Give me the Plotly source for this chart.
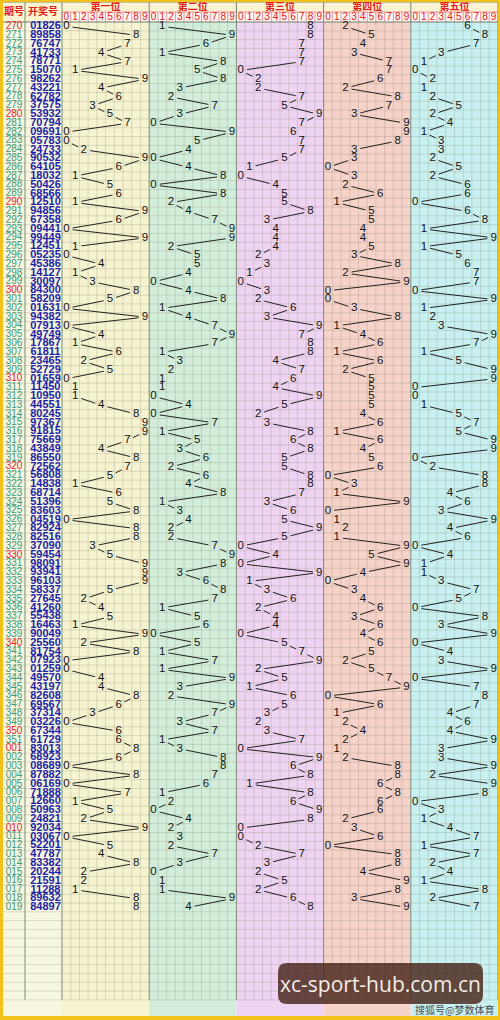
import plotly.graph_objects as go
import math

periods = ["270","271","272","273","274","275","276","277","278","279",
           "280","281","282","283","284","285","286","287","288","289",
           "290","291","292","293","294","295","296","297","298","299",
           "300","301","302","303","304","305","306","307","308","309",
           "310","311","312","313","314","315","316","317","318","319",
           "320","321","322","323","324","325","326","327","328","329",
           "330","331","332","333","334","335","336","337","338","339",
           "340","341","342","343","344","345","346","347","348","349",
           "350","351","001","002","003","004","005","006","007","008",
           "009","010","011","012","013","014","015","016","017","018","019"]

numbers = ["01826","89858","76747","41733","78771","15070","98262","43221","62782","37575",
           "53932","70794","09691","05783","24733","90532","64105","18032","50426","68566",
           "12510","94856","67358","09441","99449","12451","05235","45386","14127","30097",
           "84300","58209","01631","94382","07913","49749","17867","61811","23465","52729",
           "01659","11450","10950","44551","80245","97367","91815","75669","43849","86550",
           "72562","56808","14838","68714","51396","83603","04519","82924","82516","37090",
           "59454","98091","93941","96103","58337","27645","41260","55438","16463","90049",
           "25560","81754","07923","01259","49570","43197","82608","69567","37314","03226",
           "67344","61729","83013","68923","08689","87882","06169","71888","12660","50963",
           "24821","92034","03067","52201","47787","83382","20244","21591","11288","89632","84897"]

position_names = ["第一位", "第二位", "第三位", "第四位", "第五位"]
digit_labels = [str(d) for d in range(10)]

col_colors = ["#f6f3d0", "#d2eedb", "#eed4f2", "#f6d2c8", "#c8f0f0"]

CW = 8.72   # px per cell
RH = 8.81   # px per row
X0PX = 62
Y0PX = 22
def px2x(p): return (p - X0PX) / CW
def px2y(p): return (p - Y0PX) / RH

XMIN, XMAX = px2x(0), px2x(500)
YMIN, YMAX = px2y(0), px2y(1020)
NROWS = 111
xl = px2x(3)        # left edge of period column
xsep = px2x(25)     # period | number separator
yh0 = px2y(2)
yh1 = px2y(12)

fig = go.Figure()
shapes = []

# backgrounds
shapes.append(dict(type="rect", xref="x", yref="y", x0=xl, x1=0, y0=0, y1=px2y(1016),
                   fillcolor="#f7f6e0", line_width=0, layer="below"))
for p in range(5):
    shapes.append(dict(type="rect", xref="x", yref="y", x0=p*10, x1=p*10+10, y0=0, y1=px2y(1016),
                       fillcolor=col_colors[p], line_width=0, layer="below"))
# header backgrounds
shapes.append(dict(type="rect", xref="x", yref="y", x0=xl, x1=50, y0=yh0, y1=yh1,
                   fillcolor="#fcf3d2", line_width=0, layer="below"))
shapes.append(dict(type="rect", xref="x", yref="y", x0=xl, x1=0, y0=yh0, y1=0,
                   fillcolor="#fcf3d2", line_width=0, layer="below"))
shapes.append(dict(type="rect", xref="x", yref="y", x0=0, x1=50, y0=yh1, y1=0,
                   fillcolor="#fff6f2", line_width=0, layer="below"))

# grid lines
gx, gy = [], []
for r in range(NROWS + 1):
    gx += [xl, 50, None]; gy += [r, r, None]
for c in range(50):
    if c % 10 != 0:
        gx += [c, c, None]; gy += [0, NROWS, None]
fig.add_trace(go.Scatter(x=gx, y=gy, mode="lines", line=dict(color="rgba(120,120,90,0.22)", width=1),
                         hoverinfo="skip", showlegend=False))
# header digit boxes
hx, hy = [], []
for c in range(51):
    hx += [c, c, None]; hy += [yh1, 0, None]
hx += [0, 50, None]; hy += [yh1, yh1, None]
fig.add_trace(go.Scatter(x=hx, y=hy, mode="lines", line=dict(color="rgba(225,110,120,0.7)", width=1),
                         hoverinfo="skip", showlegend=False))
# separators
sx, sy = [], []
for c in range(0, 51, 10):
    sx += [c, c, None]; sy += [yh0, NROWS, None]
sx += [xsep, xsep, None]; sy += [yh0, NROWS, None]
sx += [xl, 50, None]; sy += [0, 0, None]
sx += [xl, 50, None]; sy += [yh0, yh0, None]
fig.add_trace(go.Scatter(x=sx, y=sy, mode="lines", line=dict(color="#7a8a78", width=1),
                         hoverinfo="skip", showlegend=False))

rows = list(range(len(periods)))

# left columns
fig.add_trace(go.Scatter(
    x=[(xl + xsep) / 2] * len(periods), y=[r + 0.5 for r in rows], mode="text", text=periods,
    textfont=dict(family="Liberation Sans, Arial", size=10,
                  color=["#e02828" if (pp.endswith("0") or pp == "001") else "#3a9a7c" for pp in periods]),
    hoverinfo="skip", showlegend=False))
fig.add_trace(go.Scatter(
    x=[px2x(45.5)] * len(numbers), y=[r + 0.5 for r in rows], mode="text", text=numbers,
    textfont=dict(family="Liberation Sans, Arial", size=11, color="#1e1ea8", weight="bold"),
    hoverinfo="skip", showlegend=False))

# trend lines and digits
GAP = 0.72
for p in range(5):
    xs = [p*10 + int(n[p]) + 0.5 for n in numbers]
    ys = [r + 0.5 for r in rows]
    lx, ly = [], []
    for i in range(len(xs) - 1):
        dx = xs[i+1] - xs[i]; dy = ys[i+1] - ys[i]
        L = math.hypot(dx, dy)
        if L - 2*GAP <= 0.15:
            continue
        ux, uy = dx / L, dy / L
        lx += [xs[i] + ux*GAP, xs[i+1] - ux*GAP, None]
        ly += [ys[i] + uy*GAP, ys[i+1] - uy*GAP, None]
    fig.add_trace(go.Scatter(x=lx, y=ly, mode="lines", line=dict(color="#222222", width=1),
                             hoverinfo="skip", showlegend=False))
    fig.add_trace(go.Scatter(x=xs, y=ys, mode="text", text=[n[p] for n in numbers],
                             textfont=dict(family="Liberation Sans, Arial", size=11.5, color="#111111"),
                             hoverinfo="skip", showlegend=False))

# header texts
fig.add_trace(go.Scatter(
    x=[(xl + xsep) / 2, px2x(43)], y=[(yh0 + 0) / 2, (yh0 + 0) / 2], mode="text", text=["期号", "开奖号"],
    textfont=dict(family="Noto Sans CJK SC", size=10, color="#e02020", weight="bold"),
    hoverinfo="skip", showlegend=False))
fig.add_trace(go.Scatter(
    x=[p*10 + 5 for p in range(5)], y=[(yh0 + yh1) / 2] * 5, mode="text", text=position_names,
    textfont=dict(family="Noto Sans CJK SC", size=10, color="#e02020", weight="bold"),
    hoverinfo="skip", showlegend=False))
fig.add_trace(go.Scatter(
    x=[p*10 + d + 0.5 for p in range(5) for d in range(10)], y=[(yh1 + 0) / 2] * 50, mode="text",
    text=[digit_labels[d] for p in range(5) for d in range(10)],
    textfont=dict(family="Liberation Sans, Arial", size=10, color="#e02020"),
    hoverinfo="skip", showlegend=False))

# frame borders (paper)
shapes.append(dict(type="rect", xref="paper", yref="paper", x0=0, x1=3/500, y0=0, y1=1,
                   fillcolor="#f3c11c", line_width=0, layer="above"))
shapes.append(dict(type="rect", xref="paper", yref="paper", x0=0, x1=1, y0=0, y1=4/1020,
                   fillcolor="#f3c11c", line_width=0, layer="above"))
shapes.append(dict(type="rect", xref="paper", yref="paper", x0=0, x1=1, y0=1-2/1020, y1=1,
                   fillcolor="#f3c11c", line_width=0, layer="above"))
shapes.append(dict(type="rect", xref="paper", yref="paper", x0=498/500, x1=1, y0=0, y1=1,
                   fillcolor="#f3c11c", line_width=0, layer="above"))

# watermark rounded box
bx0, bx1 = 278/500, 483/500
by0, by1 = 1 - 1004/1020, 1 - 963/1020
rx, ry = 9/500, 9/1020
path = (f"M {bx0+rx},{by0} L {bx1-rx},{by0} Q {bx1},{by0} {bx1},{by0+ry} "
        f"L {bx1},{by1-ry} Q {bx1},{by1} {bx1-rx},{by1} L {bx0+rx},{by1} "
        f"Q {bx0},{by1} {bx0},{by1-ry} L {bx0},{by0+ry} Q {bx0},{by0} {bx0+rx},{by0} Z")
shapes.append(dict(type="path", xref="paper", yref="paper", path=path,
                   fillcolor="rgba(72,36,26,0.82)", line_width=0, layer="above"))

annotations = [
    dict(xref="paper", yref="paper", x=380.5/500, y=1 - 983.5/1020, text="xc-sport-hub.com.cn",
         showarrow=False, font=dict(family="Open Sans, DejaVu Sans", size=21, color="#f4ece6"),
         xanchor="center", yanchor="middle"),
    dict(xref="paper", yref="paper", x=496/500, y=1 - 1009/1020, text="搜狐号@梦数体育",
         showarrow=False, font=dict(family="Noto Sans CJK SC", size=10, color="#4a4a55"),
         xanchor="right", yanchor="middle"),
]

fig.update_layout(
    width=500, height=1020, margin=dict(l=0, r=0, t=0, b=0),
    paper_bgcolor="#ffffff", plot_bgcolor="#ffffff",
    xaxis=dict(range=[XMIN, XMAX], visible=False, fixedrange=True),
    yaxis=dict(range=[YMAX, YMIN], visible=False, fixedrange=True),
    shapes=shapes, annotations=annotations, showlegend=False,
)

fig.write_html("out.html", config={"displayModeBar": False},
               post_script="document.body.style.margin='0';document.body.style.padding='0';document.body.style.overflow='hidden';")
